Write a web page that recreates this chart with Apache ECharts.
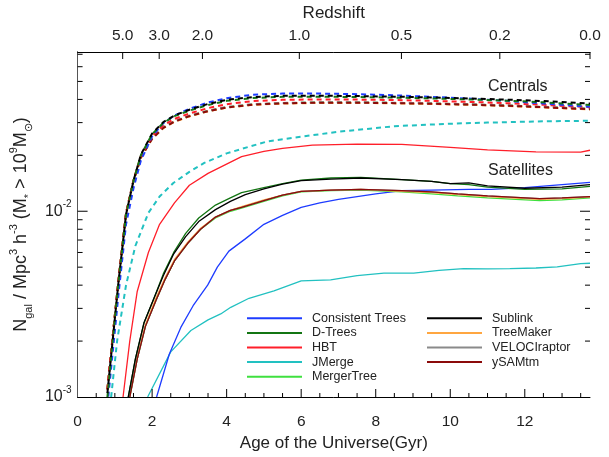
<!DOCTYPE html>
<html>
<head>
<meta charset="utf-8">
<script src="https://cdn.jsdelivr.net/npm/echarts@6/dist/echarts.min.js"></script>
<style>
html, body { margin: 0; padding: 0; background: #fff; }
#chart { width: 609px; height: 457px; }
</style>
</head>
<body>
<div id="chart"></div>
<script>
const ageMax = 13.75
const yMin = 0.001
const yMax = 0.072

// top axis: redshift ticks placed at the matching age
const redshiftAges = [1.21, 2.19, 3.35, 5.95, 8.69, 11.33, 13.75]
const redshiftLabels = ['5.0', '3.0', '2.0', '1.0', '0.5', '0.2', '0.0']
const ageLabels = [0, 2, 4, 6, 8, 10, 12]
const ageMajorTicks = [2, 4, 6, 8, 10, 12]
const ageMinorTicks = [0.5, 1, 1.5, 2.5, 3, 3.5, 4.5, 5, 5.5, 6.5, 7, 7.5, 8.5, 9, 9.5, 10.5, 11, 11.5, 12.5, 13, 13.5]
const yLabels = [0.001, 0.01]
const yMajorTicks = [0.01]
const yMinorTicks = [0.002, 0.003, 0.004, 0.005, 0.006, 0.007, 0.008, 0.009, 0.02, 0.03, 0.04, 0.05, 0.06, 0.07]

const models = ['Consistent Trees', 'D-Trees', 'HBT', 'JMerge', 'MergerTree', 'Sublink', 'TreeMaker', 'VELOCIraptor', 'ySAMtm']
const colors = {
  'Consistent Trees': '#1e3cff',
  'D-Trees': '#137513',
  'HBT': '#ff1f2a',
  'JMerge': '#22c1c1',
  'MergerTree': '#3fe03f',
  'Sublink': '#000000',
  'TreeMaker': '#ffa640',
  'VELOCIraptor': '#8a8a8a',
  'ySAMtm': '#8b0a0a'
}

// centrals (dashed)
const centralAges = [0.8, 0.95, 1.1, 1.3, 1.5, 1.7, 2.0, 2.3, 2.6, 3.0, 3.5, 4.0, 4.7, 5.5, 6.5, 7.5, 8.5, 9.5, 10.5, 11.5, 12.5, 13.75]
const cenCT = [0.0009, 0.0018, 0.0036, 0.0085, 0.0133, 0.0188, 0.0253, 0.0298, 0.0328, 0.0356, 0.0385, 0.0406, 0.0424, 0.0430, 0.0430, 0.0427, 0.0421, 0.0413, 0.0404, 0.0393, 0.0380, 0.0365]
const cenDTrees = [0.001, 0.0021, 0.0042, 0.0096, 0.0146, 0.0201, 0.026, 0.0299, 0.0325, 0.0348, 0.0373, 0.0393, 0.0407, 0.0413, 0.0414, 0.0412, 0.0409, 0.0405, 0.04, 0.0394, 0.0386, 0.0373]
const cenHBT = [0.0011, 0.0022, 0.0043, 0.0098, 0.0147, 0.0199, 0.0254, 0.029, 0.0314, 0.0336, 0.0359, 0.0377, 0.0392, 0.0398, 0.040, 0.0399, 0.0397, 0.0393, 0.0388, 0.0382, 0.0374, 0.0363]
const cenMergerTree = [0.0011, 0.0022, 0.0043, 0.0097, 0.0146, 0.0195, 0.0247, 0.0282, 0.0305, 0.0326, 0.0347, 0.0363, 0.0376, 0.0382, 0.0385, 0.0385, 0.0383, 0.038, 0.0376, 0.0371, 0.0364, 0.0356]
const cenSublink = [0.00105, 0.0021, 0.0042, 0.0096, 0.0146, 0.0202, 0.0262, 0.0302, 0.0328, 0.0352, 0.0378, 0.0398, 0.0412, 0.0418, 0.0419, 0.0417, 0.0414, 0.041, 0.0405, 0.0399, 0.0392, 0.0380]
const cenTreeMaker = [0.0011, 0.0022, 0.0043, 0.0097, 0.0145, 0.0194, 0.0245, 0.0280, 0.0303, 0.0324, 0.0345, 0.0361, 0.0374, 0.038, 0.0383, 0.0383, 0.0381, 0.0378, 0.0374, 0.0369, 0.0362, 0.0353]
const cenVELOCIraptor = [0.0011, 0.0022, 0.0043, 0.0097, 0.0146, 0.0196, 0.0248, 0.0283, 0.0306, 0.0327, 0.0348, 0.0364, 0.0377, 0.0383, 0.0386, 0.0386, 0.0384, 0.0381, 0.0377, 0.0372, 0.0365, 0.0357]
const cenYSAMtm = [0.0011, 0.0022, 0.0043, 0.0098, 0.0146, 0.0195, 0.0246, 0.0281, 0.0304, 0.0325, 0.0346, 0.0362, 0.0375, 0.0381, 0.0384, 0.0384, 0.0382, 0.0379, 0.0375, 0.037, 0.0363, 0.0354]
const cenJMergeAges = [0.9, 1.06, 1.3, 1.55, 1.9, 2.2, 2.57, 3.0, 3.4, 4.0, 5.1, 6.0, 7.0, 8.5, 10, 11, 12.5, 13.75]
const cenJMerge = [0.001, 0.002, 0.004, 0.0065, 0.0098, 0.0120, 0.0142, 0.0163, 0.0182, 0.0205, 0.0238, 0.0252, 0.0268, 0.0287, 0.0296, 0.030, 0.0305, 0.0307]

// satellites (solid), [age, density]
const satCT = [[2.12, 0.001], [2.46, 0.0017], [2.77, 0.00237], [3.1, 0.0031], [3.49, 0.004], [3.75, 0.005], [4.06, 0.0061], [4.5, 0.0071], [5.0, 0.0085], [5.5, 0.0095], [6.0, 0.0105], [6.5, 0.0111], [7.0, 0.0116], [8.0, 0.0124], [8.7, 0.0129], [9.5, 0.0130], [10.5, 0.0131], [11.1, 0.0131], [12, 0.0134], [13, 0.0139], [13.75, 0.0143]]
const satDTrees = [[1.36, 0.001], [1.55, 0.0016], [1.78, 0.0025], [2.05, 0.0034], [2.3, 0.0046], [2.58, 0.006], [2.9, 0.0076], [3.25, 0.0092], [3.7, 0.0108], [4.1, 0.0118], [4.4, 0.0126], [5.0, 0.0134], [5.5, 0.0141], [6.0, 0.0147], [6.8, 0.0151], [7.6, 0.0152], [8.7, 0.0148], [9.5, 0.0145], [10.0, 0.0141], [10.5, 0.0139], [11.0, 0.0135], [12.0, 0.0131], [13.0, 0.0132], [13.75, 0.0136]]
const satHBT = [[1.22, 0.001], [1.4, 0.002], [1.6, 0.0037], [1.9, 0.006], [2.2, 0.0085], [2.6, 0.0111], [3.0, 0.0138], [3.5, 0.016], [4.4, 0.0197], [5.0, 0.021], [5.5, 0.0218], [6.3, 0.0227], [7.5, 0.023], [8.7, 0.0229], [10, 0.0221], [11, 0.0214], [12.3, 0.0209], [13.5, 0.0208], [13.75, 0.0213]]
const satJMerge = [[1.88, 0.001], [2.5, 0.00175], [3.04, 0.00228], [3.5, 0.0026], [3.84, 0.0028], [4.11, 0.00304], [4.6, 0.0034], [5.27, 0.00373], [6.0, 0.00422], [6.79, 0.00427], [7.5, 0.0045], [8.22, 0.00464], [9.02, 0.00464], [9.7, 0.0048], [10.36, 0.00491], [11.0, 0.0049], [11.6, 0.00491], [12.3, 0.00495], [12.87, 0.00502], [13.5, 0.00523], [13.75, 0.00525]]
const satMergerTree = [[1.4, 0.001], [1.6, 0.0016], [1.82, 0.0024], [2.1, 0.0033], [2.35, 0.0043], [2.6, 0.0054], [2.95, 0.0067], [3.3, 0.008], [3.7, 0.0092], [4.1, 0.01], [4.4, 0.0104], [5.0, 0.0113], [5.5, 0.0121], [6.0, 0.0127], [6.8, 0.0129], [7.6, 0.013], [8.7, 0.0127], [9.5, 0.0124], [10.2, 0.0121], [11.0, 0.0118], [12.4, 0.0114], [13.0, 0.0115], [13.75, 0.0118]]
const satSublink = [[1.36, 0.001], [1.55, 0.0016], [1.78, 0.0025], [2.05, 0.0034], [2.3, 0.0045], [2.58, 0.0059], [2.9, 0.0073], [3.25, 0.0088], [3.7, 0.0102], [4.1, 0.0113], [4.5, 0.0123], [5.0, 0.0132], [5.5, 0.014], [6.0, 0.0146], [6.8, 0.0149], [7.6, 0.0151], [8.7, 0.0148], [9.5, 0.0145], [10.0, 0.0141], [10.5, 0.0142], [11.0, 0.0137], [12.0, 0.0133], [13.0, 0.0135], [13.75, 0.0139]]
const satTreeMaker = [[1.4, 0.001], [1.6, 0.00165], [1.82, 0.00245], [2.1, 0.0034], [2.35, 0.0044], [2.6, 0.0055], [2.95, 0.0068], [3.3, 0.0081], [3.7, 0.0093], [4.1, 0.0101], [4.4, 0.0106], [5.0, 0.0115], [5.5, 0.0122], [6.0, 0.0128], [6.8, 0.013], [7.6, 0.0131], [8.7, 0.0128], [9.5, 0.0126], [10.2, 0.0123], [11.0, 0.012], [12.4, 0.0116], [13.0, 0.0117], [13.75, 0.0119]]
const satVELOCIraptor = [[1.4, 0.001], [1.6, 0.0016], [1.82, 0.0024], [2.1, 0.0033], [2.35, 0.0043], [2.6, 0.0054], [2.95, 0.0067], [3.3, 0.008], [3.7, 0.0093], [4.1, 0.0101], [4.4, 0.0105], [5.0, 0.0114], [5.5, 0.0122], [6.0, 0.0128], [6.8, 0.013], [7.6, 0.0131], [8.7, 0.0129], [9.5, 0.0127], [10.2, 0.0124], [11.0, 0.0121], [12.4, 0.0117], [13.0, 0.0118], [13.75, 0.012]]
const satYSAMtm = [[1.4, 0.001], [1.6, 0.0016], [1.82, 0.0024], [2.1, 0.0033], [2.35, 0.0043], [2.6, 0.0054], [2.95, 0.0067], [3.3, 0.008], [3.7, 0.0093], [4.1, 0.0101], [4.4, 0.0105], [5.0, 0.0114], [5.5, 0.0122], [6.0, 0.0128], [6.8, 0.013], [7.6, 0.0131], [8.7, 0.0129], [9.5, 0.0127], [10.2, 0.0124], [11.0, 0.0121], [12.4, 0.0117], [13.0, 0.0118], [13.75, 0.012]]

const font = 'Liberation Sans, Arial, sans-serif'
const textColor = '#222'

const zip = (xs, ys) => xs.map((x, i) => [x, ys[i]])

const dashed = (name, ages, values) => ({
  type: 'line',
  name: name + ' (centrals)',
  data: zip(ages, values),
  symbol: 'none',
  silent: true,
  lineStyle: { color: colors[name], width: 2, type: [5, 4] },
  itemStyle: { color: colors[name] }
})

const solid = (name, data) => ({
  type: 'line',
  name,
  data,
  symbol: 'none',
  silent: true,
  lineStyle: { color: colors[name], width: 1.3 },
  itemStyle: { color: colors[name] }
})

// short tick lines drawn at data positions through the axes
const ticks = (data, dx, dy) => ({
  type: 'custom',
  silent: true,
  clip: false,
  z: 10,
  data,
  renderItem: (params, api) => {
    const p = api.coord([api.value(0), api.value(1)])
    return {
      type: 'line',
      shape: { x1: p[0], y1: p[1], x2: p[0] + dx, y2: p[1] + dy },
      style: { stroke: '#000', lineWidth: 1 }
    }
  }
})

const supRich = (base, small) => ({
  t: { fontSize: base, fontFamily: font, color: textColor, lineHeight: base + 8 },
  sup: { fontSize: small, fontFamily: font, color: textColor, verticalAlign: 'top', lineHeight: base + 8 },
  sub: { fontSize: small, fontFamily: font, color: textColor, verticalAlign: 'bottom', lineHeight: base + 8 }
})

const chart = echarts.init(document.getElementById('chart'))
chart.setOption({
  animation: false,
  backgroundColor: '#fff',
  textStyle: { fontFamily: font },
  grid: { left: 76.5, right: 19, top: 50, bottom: 60 },
  xAxis: [
    {
      type: 'value',
      position: 'bottom',
      min: 0,
      max: ageMax,
      name: 'Age of the Universe(Gyr)',
      nameLocation: 'middle',
      nameGap: 37,
      nameTextStyle: { fontSize: 17, color: textColor, fontFamily: font },
      axisLine: { lineStyle: { color: '#000', width: 1 } },
      axisTick: { show: false },
      axisLabel: { customValues: ageLabels, fontSize: 15.5, color: textColor, margin: 17 },
      splitLine: { show: false }
    },
    {
      type: 'value',
      position: 'top',
      min: 0,
      max: ageMax,
      name: 'Redshift',
      nameLocation: 'middle',
      nameGap: 30,
      nameTextStyle: { fontSize: 17, color: textColor, fontFamily: font },
      axisLine: { lineStyle: { color: '#000', width: 1 } },
      axisTick: { show: false },
      axisLabel: {
        customValues: redshiftAges,
        fontSize: 15.5,
        color: textColor,
        margin: 8,
        hideOverlap: false,
        formatter: v => {
          let best = 0
          redshiftAges.forEach((a, i) => { if (Math.abs(a - v) < Math.abs(redshiftAges[best] - v)) best = i })
          return redshiftLabels[best]
        }
      },
      splitLine: { show: false }
    }
  ],
  yAxis: [
    {
      type: 'log',
      logBase: 10,
      position: 'left',
      min: yMin,
      max: yMax,
      name: '{t|N}{sub|gal}{t| / Mpc}{sup|3}{t| h}{sup|-3}{t| (M}{sub|*}{t| > 10}{sup|9}{t|M}{sub|⊙}{t|)}',
      nameLocation: 'middle',
      nameRotate: 90,
      nameGap: 40,
      nameTextStyle: { rich: supRich(18, 11) },
      axisLine: { show: true, lineStyle: { color: '#000', width: 1 } },
      axisTick: { show: false },
      axisLabel: {
        customValues: yLabels,
        margin: 6,
        formatter: v => '{t|10}{sup|' + Math.round(Math.log10(v)) + '}',
        rich: supRich(16, 10)
      },
      splitLine: { show: false }
    },
    {
      type: 'log',
      logBase: 10,
      position: 'right',
      min: yMin,
      max: yMax,
      axisLine: { show: true, lineStyle: { color: '#555', width: 1 } },
      axisTick: { show: false },
      axisLabel: { show: false },
      splitLine: { show: false }
    }
  ],
  legend: [
    {
      data: models.slice(0, 5),
      orient: 'vertical',
      left: 247,
      top: 311,
      padding: 0,
      itemWidth: 55,
      itemHeight: 2,
      itemGap: 0,
      icon: 'rect',
      textStyle: { fontSize: 12.5, color: textColor, lineHeight: 14.6, padding: [0, 0, 0, 5] },
      selectedMode: false
    },
    {
      data: models.slice(5),
      orient: 'vertical',
      left: 427,
      top: 311,
      padding: 0,
      itemWidth: 55,
      itemHeight: 2,
      itemGap: 0,
      icon: 'rect',
      textStyle: { fontSize: 12.5, color: textColor, lineHeight: 14.6, padding: [0, 0, 0, 5] },
      selectedMode: false
    }
  ],
  graphic: [
    { type: 'text', left: 488, top: 79, style: { text: 'Centrals', fontSize: 16, fontFamily: font, fill: textColor } },
    { type: 'text', left: 488, top: 163, style: { text: 'Satellites', fontSize: 16, fontFamily: font, fill: textColor } }
  ],
  series: [
    dashed('JMerge', cenJMergeAges, cenJMerge),
    dashed('MergerTree', centralAges, cenMergerTree),
    dashed('TreeMaker', centralAges, cenTreeMaker),
    dashed('VELOCIraptor', centralAges, cenVELOCIraptor),
    dashed('ySAMtm', centralAges, cenYSAMtm),
    dashed('HBT', centralAges, cenHBT),
    dashed('Consistent Trees', centralAges, cenCT),
    dashed('D-Trees', centralAges, cenDTrees),
    dashed('Sublink', centralAges, cenSublink),
    solid('JMerge', satJMerge),
    solid('HBT', satHBT),
    solid('Consistent Trees', satCT),
    solid('MergerTree', satMergerTree),
    solid('TreeMaker', satTreeMaker),
    solid('VELOCIraptor', satVELOCIraptor),
    solid('ySAMtm', satYSAMtm),
    solid('D-Trees', satDTrees),
    solid('Sublink', satSublink),
    ticks(ageMinorTicks.map(a => [a, yMin]), 0, -4),
    ticks(ageMajorTicks.map(a => [a, yMin]), 0, -8),
    ticks(redshiftAges.map(a => [a, yMax]), 0, 7),
    ticks(yMinorTicks.map(v => [0, v]), 5, 0),
    ticks(yMajorTicks.map(v => [0, v]), 10, 0),
    ticks(yMinorTicks.map(v => [ageMax, v]), -5, 0),
    ticks(yMajorTicks.map(v => [ageMax, v]), -10, 0)
  ]
})
</script>
</body>
</html>
